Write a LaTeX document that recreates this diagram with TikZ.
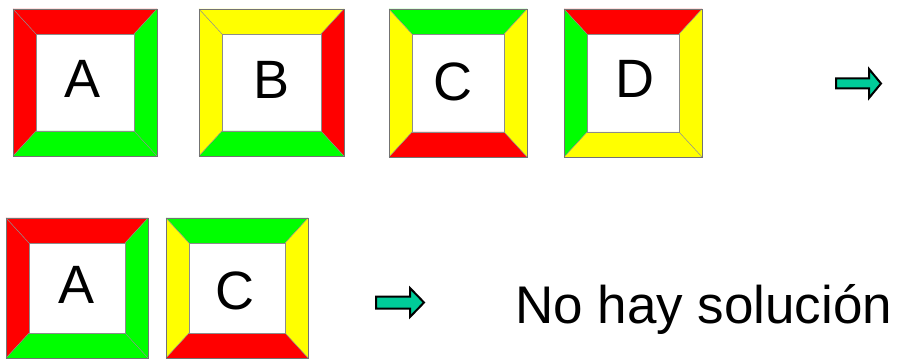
\documentclass[tikz,border=0pt]{standalone}
\usepackage{fontspec}
\setmainfont{Liberation Sans}
\definecolor{fred}{RGB}{255,0,0}
\definecolor{fgreen}{RGB}{0,255,0}
\definecolor{fyellow}{RGB}{255,255,0}
\definecolor{fteal}{RGB}{0,204,153}
% #1 name, #2 x0, #3 y0, #4 x1, #5 y1, #6 top, #7 right, #8 bottom, #9 left
\newcommand\sqframe[9]{%
  \fill[#6] (#2,#3) -- (#4,#3) -- (#4-23,#3+25) -- (#2+23,#3+25) -- cycle;
  \fill[#7] (#4,#3) -- (#4,#5) -- (#4-23,#5-25) -- (#4-23,#3+25) -- cycle;
  \fill[#8] (#4,#5) -- (#2,#5) -- (#2+23,#5-25) -- (#4-23,#5-25) -- cycle;
  \fill[#9] (#2,#5) -- (#2,#3) -- (#2+23,#3+25) -- (#2+23,#5-25) -- cycle;
  \draw[seam] (#2,#3) -- (#2+23,#3+25) (#4,#3) -- (#4-23,#3+25)
              (#4,#5) -- (#4-23,#5-25) (#2,#5) -- (#2+23,#5-25);
  \draw[seam] (#2+23,#3+25) rectangle (#4-23,#5-25);
  \draw[outer] (#2,#3) rectangle (#4,#5);
  \coordinate (#1c) at ({(#2+#4)/2},{(#3+#5)/2});
}
\tikzset{
  seam/.style={draw=black!45, line width=0.5pt},
  outer/.style={draw=black!55, line width=0.8pt},
  letter/.style={font=\fontsize{54}{60}\selectfont, inner sep=0pt, anchor=base},
  blockarrow/.style={fill=fteal, draw=black, line width=2pt, line join=miter},
}
\begin{document}
\begin{tikzpicture}[x=1pt,y=-1pt]
\useasboundingbox[fill=white] (0,0) rectangle (912,363);
% row 1
\sqframe{A}{13}{9}{157}{156}{fred}{fgreen}{fgreen}{fred}
\sqframe{B}{199}{9}{344}{156}{fyellow}{fred}{fgreen}{fyellow}
\sqframe{C}{389}{9}{527}{157}{fgreen}{fyellow}{fred}{fyellow}
\sqframe{D}{564}{9}{702}{157}{fred}{fyellow}{fyellow}{fgreen}
\node[letter] (lA) at (83,98) {A};
\node[letter] (lB) at (272,99) {B};
\node[letter] (lC) at (453,101) {C};
\node[letter] (lD) at (635,98) {D};
% row 2
\sqframe{A2}{6}{218}{148}{358}{fred}{fgreen}{fgreen}{fred}
\sqframe{C2}{166}{218}{308}{358}{fgreen}{fyellow}{fred}{fyellow}
\node[letter] (lA2) at (77,303) {A};
\node[letter] (lC2) at (235,309) {C};
% arrows
\draw[blockarrow] (836,78.5) -- (869,78.5) -- (869,69) -- (881,83.5) -- (869,98) -- (869,88.5) -- (836,88.5) -- cycle;
\draw[blockarrow] (376,296.5) -- (410,296.5) -- (410,288) -- (424,302.5) -- (410,317) -- (410,308.5) -- (376,308.5) -- cycle;
% text
\node[font=\fontsize{53}{60}\selectfont, inner sep=0pt, anchor=base west] (txt) at (515,323) {No hay solución};
\end{tikzpicture}
\end{document}
